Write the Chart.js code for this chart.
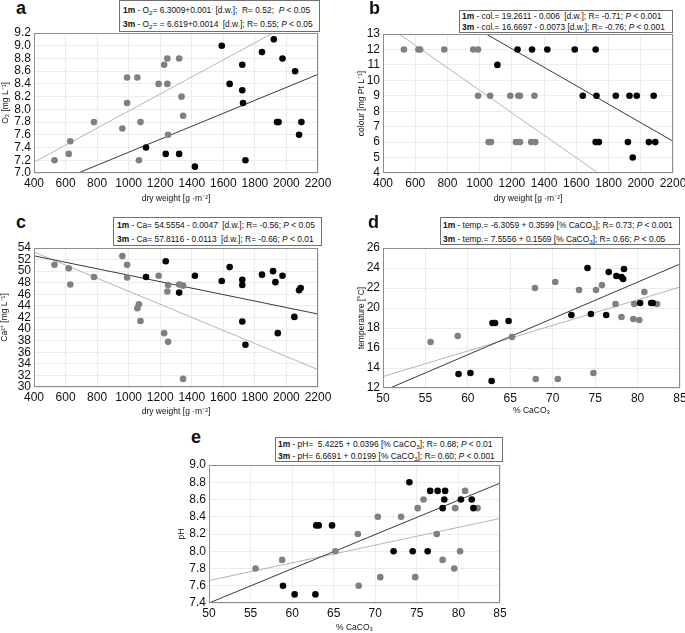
<!DOCTYPE html>
<html>
<head>
<meta charset="utf-8">
<script src="https://cdn.jsdelivr.net/npm/chart.js@4.4.1/dist/chart.umd.min.js"></script>
<style>
  body { margin: 0; width: 685px; height: 633px; overflow: hidden; background: #fff; position: relative;
         font-family: "Liberation Sans", Arial, sans-serif; }
  canvas { position: absolute; }
  .tag { position: absolute; font-weight: bold; font-size: 18px; line-height: 18px; color: #111; z-index: 3; }
  .eq { position: absolute; z-index: 2; background: #fff; border: 1px solid #707070; box-sizing: border-box;
        font-size: 8.4px; color: #111; white-space: nowrap; }
  .eq div { white-space: nowrap; }
  .eq sub { font-size: 6.2px; vertical-align: -1.5px; line-height: 0; }
  .eq sup { font-size: 6px; vertical-align: 3px; line-height: 0; }
</style>
</head>
<body>

<div class="tag" style="left:16px;top:-1px">a</div>
<div class="tag" style="left:369px;top:-1px">b</div>
<div class="tag" style="left:16px;top:213px">c</div>
<div class="tag" style="left:368px;top:213px">d</div>
<div class="tag" style="left:191px;top:428px">e</div>

<div class="eq" style="left:119px;top:0px;width:201px;height:32px;padding:2px 0 0 3px;line-height:14px">
  <div><b>1m</b> - O<sub>2</sub>= 6.3009+0.001<sup>·</sup> [d.w.];&nbsp; R= 0.52;&nbsp; <i>P</i> &lt; 0.05</div>
  <div><b>3m</b> - O<sub>2</sub>= = 6.619+0.0014<sup>·</sup> [d.w.]; R= 0.55; <i>P</i> &lt; 0.05</div>
</div>
<div class="eq" style="left:459px;top:10px;width:214px;height:23px;padding:0 0 0 2px;line-height:11px">
  <div><b>1m</b> - col.= 19.2611 - 0.006<sup>·</sup> [d.w.]; R= -0.71; <i>P</i> &lt; 0.001</div>
  <div><b>3m</b> - col.= 16.6697 - 0.0073 [d.w.]; R= -0.76; <i>P</i> &lt; 0.001</div>
</div>
<div class="eq" style="left:113px;top:217px;width:209px;height:29px;padding:0 0 0 3px;line-height:14px">
  <div><b>1m</b> - Ca= 54.5554 - 0.0047<sup>·</sup> [d.w.]; R= -0.56; <i>P</i> &lt; 0.05</div>
  <div><b>3m</b> - Ca= 57.8116 - 0.0113<sup>·</sup> [d.w.]; R= -0.66; <i>P</i> &lt; 0.01</div>
</div>
<div class="eq" style="left:440px;top:217px;width:240px;height:28px;padding:0 0 0 2px;line-height:14px">
  <div><b>1m</b> - temp.= -6.3059 + 0.3599 [% CaCO<sub>3</sub>]; R= 0.73; <i>P</i> &lt; 0.001</div>
  <div><b>3m</b> - temp.= 7.5556 + 0.1569 [% CaCO<sub>3</sub>]; R= 0.66; <i>P</i> &lt; 0.05</div>
</div>
<div class="eq" style="left:275px;top:437px;width:228px;height:25px;padding:0 0 0 2px;line-height:12px">
  <div><b>1m</b> - pH=&nbsp; 5.4225 + 0.0396 [% CaCO<sub>3</sub>]; R= 0.68; <i>P</i> &lt; 0.01</div>
  <div><b>3m</b> - pH= 6.6691 + 0.0199 [% CaCO<sub>3</sub>]; R= 0.60; <i>P</i> &lt; 0.001</div>
</div>

<script>
/**************** Data ****************/
// panel a: dry weight vs O2
const a3mX = [530, 620, 630, 780, 960, 990, 990, 1055, 1065, 1075, 1190, 1225, 1245, 1245, 1250, 1320, 1335, 1345];
const a3mY = [7.2, 7.3, 7.5, 7.8, 7.7, 8.5, 8.1, 8.5, 7.2, 7.8, 8.4, 8.7, 8.8, 8.4, 7.6, 8.8, 8.2, 7.9];
const a1mX = [1110, 1235, 1320, 1420, 1590, 1640, 1720, 1720, 1725, 1740, 1845, 1920, 1940, 1950, 1975, 2055, 2080, 2095];
const a1mY = [7.4, 7.3, 7.3, 7.1, 9.0, 8.4, 8.7, 8.3, 8.1, 7.2, 8.9, 9.1, 7.8, 7.8, 8.8, 8.6, 7.6, 7.8];
const aFit1mX = [680, 2200];
const aFit1mY = [7.0, 8.55];
const aFit3mX = [400, 1915];
const aFit3mY = [7.17, 9.2];
const aXTicks = [400, 600, 800, 1000, 1200, 1400, 1600, 1800, 2000, 2200];
const aYTicks = [7.0, 7.2, 7.4, 7.6, 7.8, 8.0, 8.2, 8.4, 8.6, 8.8, 9.0, 9.2];

// panel b: dry weight vs colour
const b3mX = [530, 620, 630, 780, 960, 990, 990, 1065, 1190, 1240, 1250, 1340, 1055, 1070, 1225, 1250, 1320, 1345];
const b3mY = [12, 12, 12, 12, 12, 12, 9, 9, 9, 9, 9, 9, 6, 6, 6, 6, 6, 6];
const b1mX = [1235, 1325, 1420, 1590, 1720, 1110, 1640, 1725, 1845, 1930, 1975, 2080, 1720, 1740, 1920, 2050, 2090, 1950];
const b1mY = [12, 12, 12, 12, 12, 11, 9, 9, 9, 9, 9, 9, 6, 6, 6, 6, 6, 5];
const bFit1mX = [1040, 2200];
const bFit1mY = [13, 6.06];
const bFit3mX = [500, 1735];
const bFit3mY = [13, 4];
const bXTicks = [400, 600, 800, 1000, 1200, 1400, 1600, 1800, 2000, 2200];
const bYTicks = [4, 5, 6, 7, 8, 9, 10, 11, 12, 13];

// panel c: dry weight vs Ca2+
const c3mX = [530, 620, 630, 780, 960, 990, 990, 1055, 1065, 1075, 1190, 1225, 1245, 1250, 1250, 1320, 1345, 1345];
const c3mY = [51.1, 50.5, 47.7, 49.0, 52.6, 51.1, 48.9, 43.6, 44.3, 41.4, 49.2, 39.3, 46.5, 47.6, 37.8, 47.7, 47.5, 31.4];
const c1mX = [1110, 1235, 1320, 1420, 1590, 1640, 1720, 1720, 1720, 1740, 1845, 1915, 1930, 1945, 1975, 2050, 2080, 2090];
const c1mY = [49.0, 51.7, 46.3, 49.2, 48.3, 50.7, 48.5, 47.6, 41.3, 37.3, 49.4, 50.0, 48.1, 39.3, 49.2, 42.1, 46.7, 47.1];
const cFit1mX = [400, 2200];
const cFit1mY = [52.65, 42.6];
const cFit3mX = [400, 2200];
const cFit3mY = [53.3, 33.0];
const cXTicks = [400, 600, 800, 1000, 1200, 1400, 1600, 1800, 2000, 2200];
const cYTicks = [30, 32, 34, 36, 38, 40, 42, 44, 46, 48, 50, 52, 54];

// panels d and e share the % CaCO3 values
const caco3_3m = [55.6, 58.8, 65.2, 67.9, 68.0, 70.3, 70.6, 73.1, 74.8, 75.1, 75.8, 77.4, 78.1, 79.5, 79.6, 80.2, 80.8, 82.3];
const caco3_1m = [58.9, 60.3, 62.8, 62.9, 63.2, 64.8, 72.2, 74.1, 74.5, 76.3, 76.6, 77.5, 78.1, 78.3, 78.4, 80.3, 81.6, 81.8];

// panel d: temperature
const d3mY = [16.6, 17.2, 17.1, 22.0, 12.9, 22.6, 12.9, 21.8, 13.5, 21.8, 22.3, 20.4, 19.1, 18.9, 20.4, 18.8, 21.6, 20.4];
const d1mY = [13.4, 13.5, 12.7, 18.5, 18.5, 18.7, 19.3, 24.0, 19.4, 19.3, 23.6, 23.2, 23.1, 22.9, 23.9, 20.5, 20.5, 20.5];
const dFit1mX = [50, 85];
const dFit1mY = [11.7, 24.4];
const dFit3mX = [50, 85];
const dFit3mY = [13.15, 22.1];
const dXTicks = [50, 55, 60, 65, 70, 75, 80, 85];
const dYTicks = [12, 14, 16, 18, 20, 22, 24, 26];

// panel e: pH
const e3mY = [7.8, 7.9, 8.0, 8.2, 7.6, 8.4, 7.7, 8.4, 7.7, 8.5, 8.6, 8.2, 7.9, 7.8, 8.5, 8.0, 8.7, 8.5];
const e1mY = [7.6, 7.5, 7.5, 8.3, 8.3, 8.3, 8.0, 8.8, 8.0, 8.0, 8.7, 8.7, 8.5, 8.6, 8.7, 8.6, 8.6, 8.5];
const eFit1mX = [50, 85];
const eFit1mY = [7.4, 8.79];
const eFit3mX = [50, 85];
const eFit3mY = [7.66, 8.38];
const eXTicks = [50, 55, 60, 65, 70, 75, 80, 85];
const eYTicks = [7.4, 7.6, 7.8, 8.0, 8.2, 8.4, 8.6, 8.8, 9.0];

/**************** Helpers ****************/
const FONT = "'Liberation Sans', Arial, sans-serif";
const pts = (xs, ys) => xs.map((x, i) => ({ x: x, y: ys[i] }));

// grey frame round the plot area
const frameBox = {
  id: "frameBox",
  afterDraw: function (chart) {
    const { ctx, chartArea: a } = chart;
    ctx.save();
    ctx.strokeStyle = "#8c8c8c";
    ctx.lineWidth = 1;
    ctx.strokeRect(Math.round(a.left) + 0.5, Math.round(a.top) + 0.5,
      Math.round(a.right - a.left) - 1, Math.round(a.bottom - a.top) - 1);
    ctx.restore();
  },
};

function axis(p, which) {
  const isX = which === "x";
  const ticks = isX ? p.xTicks : p.yTicks;
  return {
    type: "linear",
    min: ticks[0],
    max: ticks[ticks.length - 1],
    afterBuildTicks: (s) => {
      s.ticks = ticks.map((v) => ({ value: v }));
    },
    afterFit: (s) => {
      if (isX) s.height = p.box.y + p.box.h - p.area.b;
      else s.width = p.area.l - p.box.x;
    },
    ticks: {
      autoSkip: false,
      maxRotation: 0,
      padding: 3,
      color: "#111",
      font: { family: FONT, size: 12 },
      callback: (v) => (p.dec ? v.toFixed(isX ? 0 : p.dec) : v),
    },
    grid: { color: "#ececec", drawTicks: false },
    border: { display: false },
    title: {
      display: true,
      text: isX ? p.xTitle : p.yTitle,
      color: "#111",
      font: { family: FONT, size: 8.5 },
      padding: isX ? { top: 0, bottom: p.xtPad } : { top: p.ytPad, bottom: 0 },
    },
  };
}

function buildPanel(p) {
  const cv = document.createElement("canvas");
  cv.width = p.box.w;
  cv.height = p.box.h;
  cv.style.left = p.box.x + "px";
  cv.style.top = p.box.y + "px";
  document.body.appendChild(cv);

  const dot = (data, color) => ({
    data: data,
    pointRadius: 3.3,
    pointBackgroundColor: color,
    pointBorderWidth: 0,
  });
  const fit = (data, color) => ({
    data: data,
    showLine: true,
    pointRadius: 0,
    borderColor: color,
    borderWidth: 1,
  });

  new Chart(cv, {
    type: "scatter",
    data: {
      datasets: [
        dot(p.p1m, "#050505"),
        dot(p.p3m, "#808080"),
        fit(p.f1m, "#3a3a3a"),
        fit(p.f3m, "#b4b4b4"),
      ],
    },
    options: {
      responsive: false,
      animation: false,
      layout: {
        padding: {
          left: 0,
          top: p.area.t - p.box.y,
          right: p.box.x + p.box.w - p.area.r,
          bottom: 0,
        },
      },
      plugins: { legend: { display: false }, tooltip: { enabled: false } },
      scales: { x: axis(p, "x"), y: axis(p, "y") },
    },
    plugins: [frameBox],
  });
}

/**************** Panels ****************/
buildPanel({
  box: { x: 0, y: 20, w: 340, h: 187 },
  area: { l: 34, t: 33, r: 318, b: 173 },
  xTicks: aXTicks, yTicks: aYTicks, dec: 1,
  xTitle: "dry weight [g ·m⁻²]", yTitle: "O₂ [mg L⁻¹]", xtPad: 3, ytPad: 1,
  p1m: pts(a1mX, a1mY), p3m: pts(a3mX, a3mY),
  f1m: pts(aFit1mX, aFit1mY), f3m: pts(aFit3mX, aFit3mY),
});

buildPanel({
  box: { x: 350, y: 20, w: 345, h: 187 },
  area: { l: 383, t: 34, r: 673, b: 173 },
  xTicks: bXTicks, yTicks: bYTicks, dec: 0,
  xTitle: "dry weight [g ·m⁻²]", yTitle: "colour [mg Pt L⁻¹]", xtPad: 3, ytPad: 7,
  p1m: pts(b1mX, b1mY), p3m: pts(b3mX, b3mY),
  f1m: pts(bFit1mX, bFit1mY), f3m: pts(bFit3mX, bFit3mY),
});

buildPanel({
  box: { x: 0, y: 235, w: 340, h: 185 },
  area: { l: 34, t: 248, r: 318, b: 387 },
  xTicks: cXTicks, yTicks: cYTicks, dec: 0,
  xTitle: "dry weight [g ·m⁻²]", yTitle: "Ca²⁺ [mg L⁻¹]", xtPad: 3, ytPad: 0,
  p1m: pts(c1mX, c1mY), p3m: pts(c3mX, c3mY),
  f1m: pts(cFit1mX, cFit1mY), f3m: pts(cFit3mX, cFit3mY),
});

buildPanel({
  box: { x: 350, y: 235, w: 345, h: 185 },
  area: { l: 383, t: 248, r: 680, b: 388 },
  xTicks: dXTicks, yTicks: dYTicks, dec: 0,
  xTitle: "% CaCO₃", yTitle: "temperature [°C]", xtPad: 4, ytPad: 7,
  p1m: pts(caco3_1m, d1mY), p3m: pts(caco3_3m, d3mY),
  f1m: pts(dFit1mX, dFit1mY), f3m: pts(dFit3mX, dFit3mY),
});

buildPanel({
  box: { x: 170, y: 450, w: 345, h: 183 },
  area: { l: 209, t: 465, r: 500, b: 603 },
  xTicks: eXTicks, yTicks: eYTicks, dec: 1,
  xTitle: "% CaCO₃", yTitle: "pH", xtPad: 0, ytPad: 7,
  p1m: pts(caco3_1m, e1mY), p3m: pts(caco3_3m, e3mY),
  f1m: pts(eFit1mX, eFit1mY), f3m: pts(eFit3mX, eFit3mY),
});
</script>
</body>
</html>
